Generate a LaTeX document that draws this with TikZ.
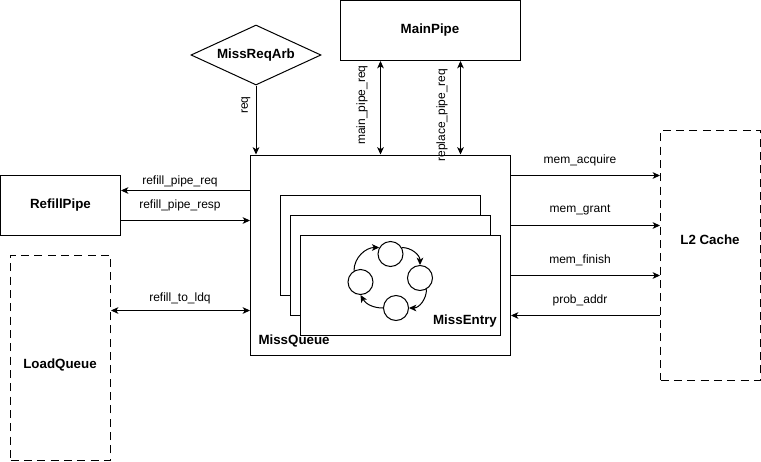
\documentclass[tikz,border=0pt]{standalone}
\usepackage{fontspec}
\setmainfont{Liberation Sans}
\usetikzlibrary{arrows.meta,shapes.geometric}
\begin{document}
\begin{tikzpicture}[x=0.75pt,y=-0.75pt, line width=0.75pt,
  box/.style={draw, rectangle, inner sep=0pt, fill=white},
  dbox/.style={draw, rectangle, inner sep=0pt, dash pattern=on 6pt off 4pt},
  bold/.style={font=\fontsize{10}{12}\selectfont\bfseries, inner sep=0pt},
  lbl/.style={font=\fontsize{9}{11}\selectfont, inner sep=0pt},
  tip/.tip={Stealth[length=5.5pt,width=5pt,inset=1.5pt]},
  arr/.style={-tip},
  darr/.style={tip-tip},
  st/.style={draw, circle, minimum size=18.75pt, inner sep=0pt}]
\useasboundingbox (0,0) rectangle (761,461);

% blocks
\node[box, bold, minimum width=135pt, minimum height=45pt] (main) at (430,30.5) {MainPipe};
\node[draw, diamond, aspect=2.17, minimum width=97.5pt, minimum height=45pt, inner sep=0pt, bold] (arb) at (256,55) {MissReqArb};
\node[box, bold, minimum width=90pt, minimum height=45pt] (rp) at (60.5,205) {RefillPipe};
\node[dbox, minimum width=75pt, minimum height=153.75pt] (lq) at (60.5,357.5) {};
\node[bold] (lqt) at (60,365) {LoadQueue};
\node[dbox, minimum width=75pt, minimum height=187.5pt] (l2) at (710.5,255) {};
\node[bold] (l2t) at (710,240) {L2 Cache};

\node[box, minimum width=195pt, minimum height=150pt] (mq) at (380.5,255) {};
\node[box, minimum width=150pt, minimum height=75pt] (e1) at (380.5,245.5) {};
\node[box, minimum width=150pt, minimum height=75pt] (e2) at (390.5,265.5) {};
\node[box, minimum width=150pt, minimum height=75pt] (e3) at (400.5,285.5) {};
\node[bold, anchor=west] (mql) at (258,341) {MissQueue};
\node[bold] (mel) at (465,321) {MissEntry};

% state machine
\node[st] (c1) at (390.5,254) {};
\node[st] (c2) at (420,278) {};
\node[st] (c3) at (396,308) {};
\node[st] (c4) at (360.5,282) {};
\draw[arr] (c1.30) to[out=0,in=90] (c2.north);
\draw[arr] (c2.-60) to[out=-90,in=0] (c3.east);
\draw[arr] (c3.west) to[out=180,in=-60] (c4.south);
\draw[arr] (c4.120) to[out=90,in=180] (c1.150);

% helper coordinates
\coordinate (x380) at (380.5,0);
\coordinate (x460) at (460.5,0);
\coordinate (y175) at (0,175.5);
\coordinate (y190) at (0,190.5);
\coordinate (y220) at (0,220.5);
\coordinate (y225) at (0,225.5);
\coordinate (y275) at (0,275.5);
\coordinate (y310) at (0,310.5);
\coordinate (y315) at (0,315.5);

% top connectors
\draw[arr] (arb.south) -- (arb.south |- mq.north);
\node[lbl, rotate=90] (reqlbl) at (246,105) {req};
\draw[darr] (x380 |- main.south) -- (x380 |- mq.north);
\node[lbl, rotate=90] (mpl) at (362,105) {main\_pipe\_req};
\draw[darr] (x460 |- main.south) -- (x460 |- mq.north);
\node[lbl, rotate=90] (rpl) at (442,115) {replace\_pipe\_req};

% left connectors
\draw[arr] (mq.west |- y190) -- (rp.east |- y190);
\node[lbl] (l1) at (180,181) {refill\_pipe\_req};
\draw[arr] (rp.east |- y220) -- (mq.west |- y220);
\node[lbl] (l2l) at (180,205) {refill\_pipe\_resp};
\draw[darr] (lq.east |- y310) -- (mq.west |- y310);
\node[lbl] (l3) at (180,298) {refill\_to\_ldq};

% right connectors
\draw[arr] (mq.east |- y175) -- (l2.west |- y175);
\node[lbl] (r1) at (580,160) {mem\_acquire};
\draw[arr] (mq.east |- y225) -- (l2.west |- y225);
\node[lbl] (r2) at (580,210) {mem\_grant};
\draw[arr] (mq.east |- y275) -- (l2.west |- y275);
\node[lbl] (r3) at (580,260) {mem\_finish};
\draw[arr] (l2.west |- y315) -- (mq.east |- y315);
\node[lbl] (r4) at (580,300) {prob\_addr};
\end{tikzpicture}
\end{document}
